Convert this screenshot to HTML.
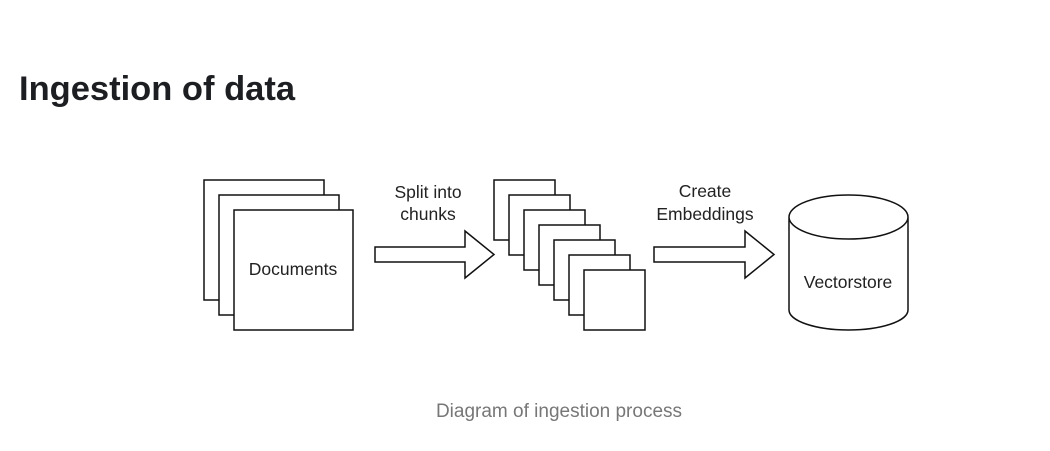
<!DOCTYPE html>
<html><head><style>
body{margin:0;width:1050px;height:451px;background:#fff;overflow:hidden;font-family:"Liberation Sans",sans-serif;}
h1{position:absolute;left:19px;top:70px;margin:0;font-size:34.5px;font-weight:bold;color:#1c1e21;}
.cap{position:absolute;left:433px;width:252px;top:401px;text-align:center;font-size:19px;color:#777;white-space:nowrap;}
svg{position:absolute;left:0;top:0;}
</style></head><body>
<h1>Ingestion of data</h1>
<svg width="1050" height="451" font-family="Liberation Sans, sans-serif" font-size="17.5" fill="#222">
<g fill="#fff" stroke="#111" stroke-width="1.5">
<rect x="204" y="180" width="120" height="120"/>
<rect x="219" y="195" width="120" height="120"/>
<rect x="234" y="210" width="119" height="120"/>
<polygon points="375,247 465,247 465,231 494,254.5 465,278 465,262 375,262"/>
<rect x="494" y="180" width="61" height="60"/>
<rect x="509" y="195" width="61" height="60"/>
<rect x="524" y="210" width="61" height="60"/>
<rect x="539" y="225" width="61" height="60"/>
<rect x="554" y="240" width="61" height="60"/>
<rect x="569" y="255" width="61" height="60"/>
<rect x="584" y="270" width="61" height="60"/>
<polygon points="654,247 745,247 745,231 774,254.5 745,278 745,262 654,262"/>
<path d="M789,217 L789,310 A59.5,20 0 0 0 908,310 L908,217 A59.5,22 0 0 0 789,217 A59.5,22 0 0 0 908,217"/>
</g>
<text x="293" y="275" text-anchor="middle">Documents</text>
<text x="428" y="198" text-anchor="middle">Split into</text>
<text x="428" y="220" text-anchor="middle">chunks</text>
<text x="705" y="197" text-anchor="middle">Create</text>
<text x="705" y="220" text-anchor="middle">Embeddings</text>
<text x="848" y="288" text-anchor="middle">Vectorstore</text>
</svg>
<div class="cap">Diagram of ingestion process</div>
</body></html>
